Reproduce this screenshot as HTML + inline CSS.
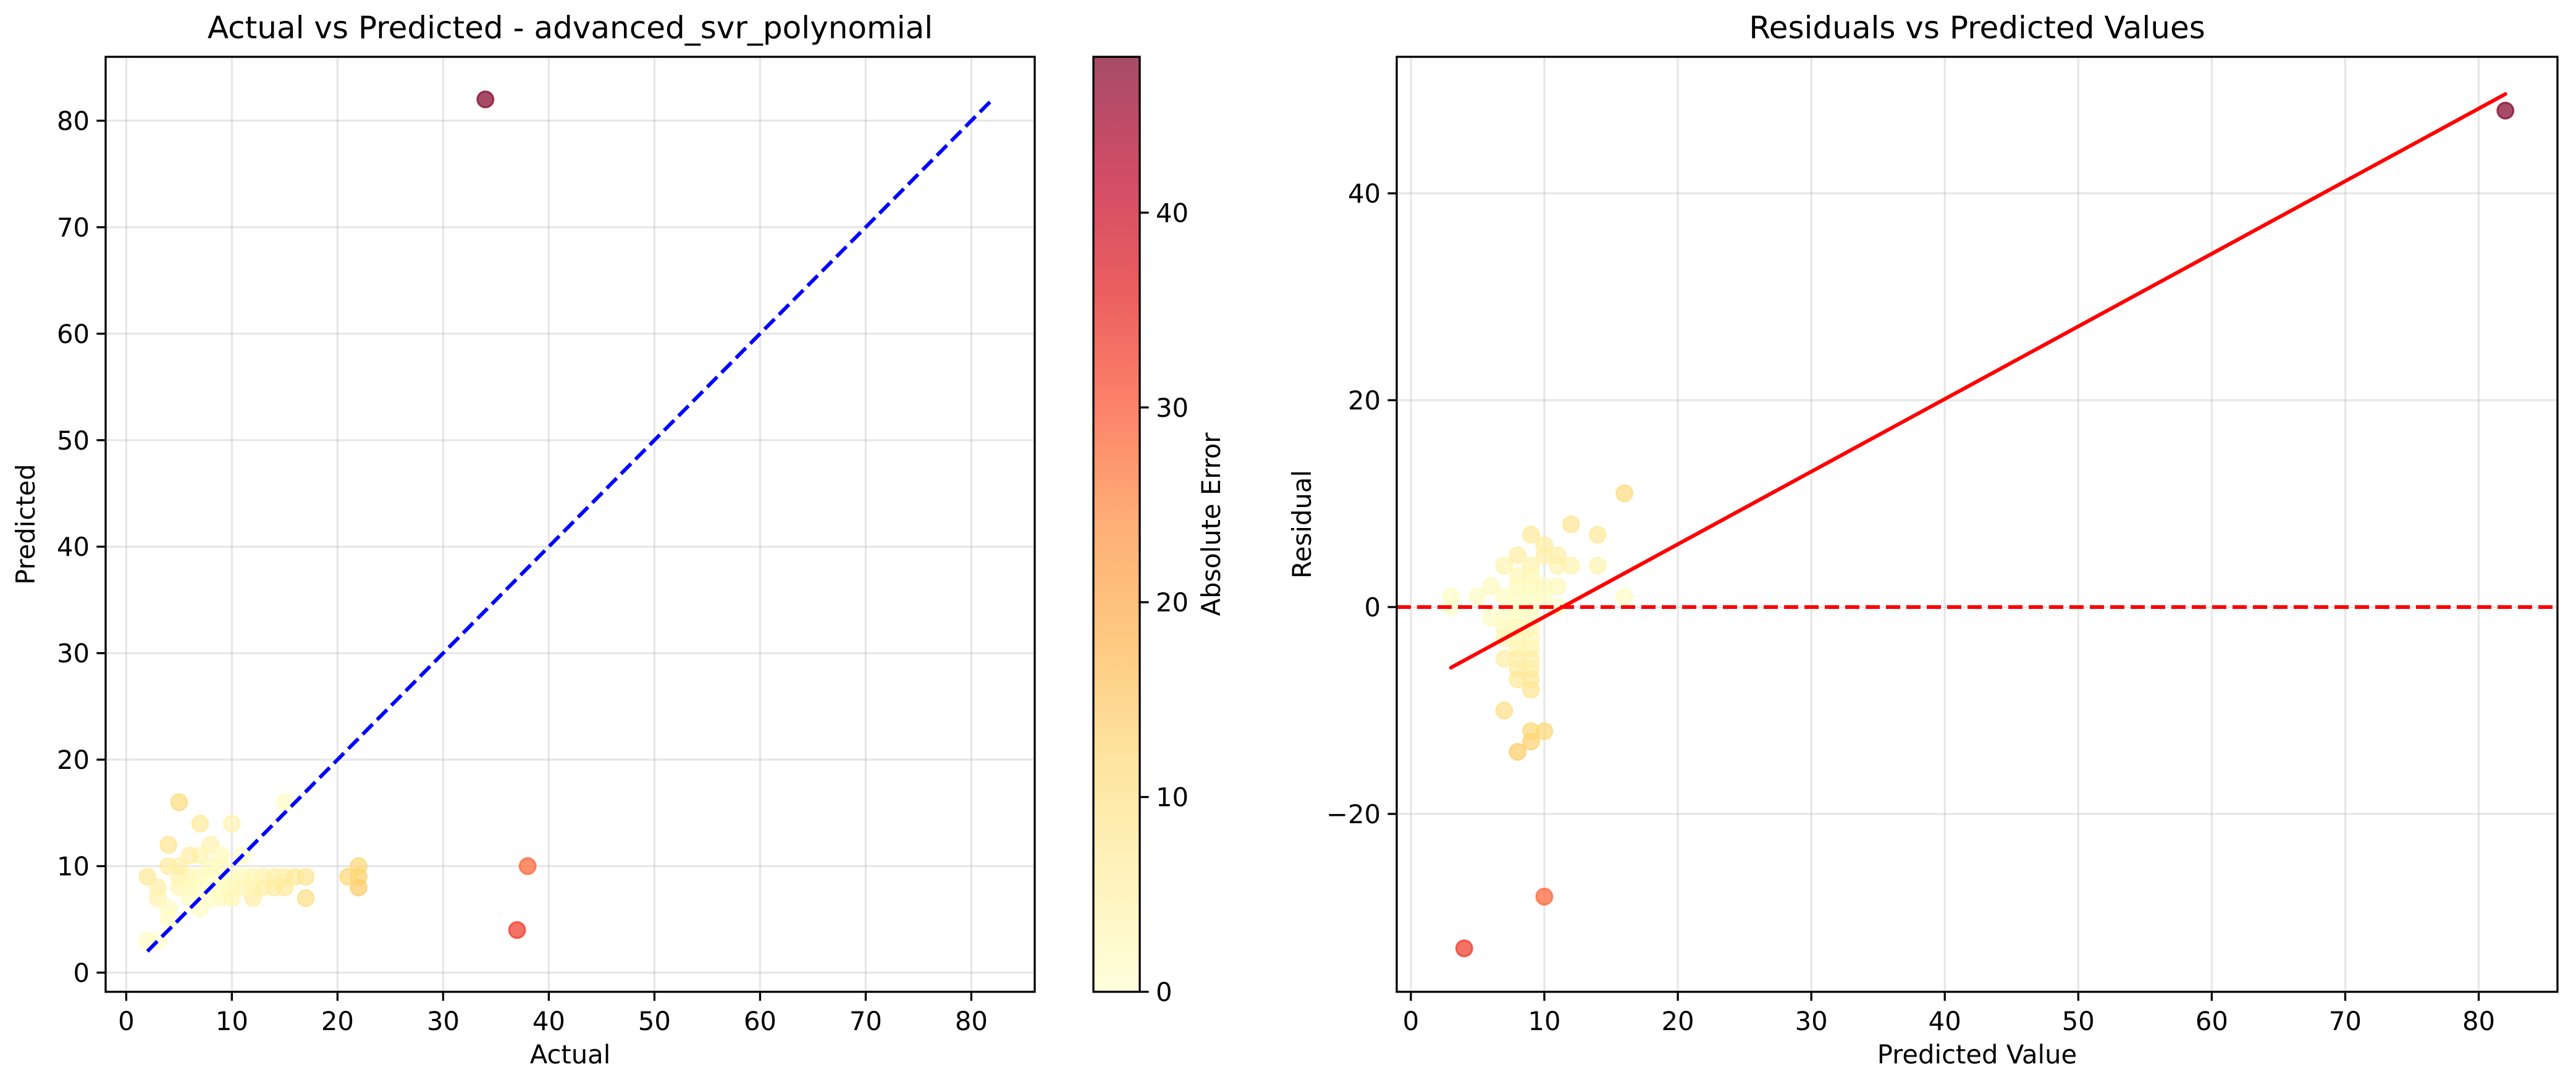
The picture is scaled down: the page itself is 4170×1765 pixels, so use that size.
<!DOCTYPE html>
<html><head><meta charset="utf-8"><style>
html,body{margin:0;padding:0;background:#fff;}
svg{display:block;font-family:"DejaVu Sans","Liberation Sans",sans-serif;}
</style></head><body>
<svg id="fig" width="4170" height="1765" viewBox="0 0 4170 1765" xmlns="http://www.w3.org/2000/svg">
<defs>
<linearGradient id="cbgrad" x1="0" y1="1" x2="0" y2="0">
<stop offset="0" stop-color="#ffffcc"/><stop offset="0.125" stop-color="#ffeda0"/><stop offset="0.25" stop-color="#fed976"/><stop offset="0.375" stop-color="#feb24c"/><stop offset="0.5" stop-color="#fd8d3c"/><stop offset="0.625" stop-color="#fc4e2a"/><stop offset="0.75" stop-color="#e31a1c"/><stop offset="0.875" stop-color="#bd0026"/><stop offset="1" stop-color="#800026"/>
</linearGradient>
</defs>
<g id="left"></g>
<g id="cbar"></g>
<g id="right"></g>
</svg>
<script>
const actualValues = [34,37,38,2,2,3,3,3,4,4,4,4,5,7,10,8,7,11,7,9,12,17,22,22,22,21,13,15,16,17,14,15,15,5,6,7,8,9,10,11,12,5,6,7,8,9,10,11,13,6,8,9,5,6,9,8,10,14,12];
const predictedValues = [82,4,10,9,3,3,8,7,12,10,6,5,16,14,14,12,11,11,6,7,7,7,10,9,8,9,9,9,9,9,8,8,16,9,9,9,9,9,9,9,8,8,8,8,8,8,8,8,8,7,10,10,10,11,11,7,7,9,9];
const leftXTicks = [0,10,20,30,40,50,60,70,80];
const leftYTicks = [0,10,20,30,40,50,60,70,80];
const cbarTicks = [0,10,20,30,40];
const rightXTicks = [0,10,20,30,40,50,60,70,80];
const rightYTicks = [-20,0,20,40];

const NS = "http://www.w3.org/2000/svg";
function mk(parent, tag, attrs, text){
  const e = document.createElementNS(NS, tag);
  for (const k in attrs) e.setAttribute(k, attrs[k]);
  if (text !== undefined) e.textContent = text;
  parent.appendChild(e);
  return e;
}
const stops = ["#ffffcc","#ffeda0","#fed976","#feb24c","#fd8d3c","#fc4e2a","#e31a1c","#bd0026","#800026"];
function hex(c){return [parseInt(c.substr(1,2),16),parseInt(c.substr(3,2),16),parseInt(c.substr(5,2),16)];}
function cmap(t){
  t=Math.max(0,Math.min(1,t)); const p=t*8; const i=Math.min(7,Math.floor(p)); const f=p-i;
  const a=hex(stops[i]), b=hex(stops[i+1]);
  return "rgb("+a.map((v,j)=>Math.round(v+(b[j]-v)*f)).join(",")+")";
}
const errors = actualValues.map((a,i)=>Math.abs(a-predictedValues[i]));
const vmax = Math.max(...errors);
const residuals = predictedValues.map((p,i)=>p-actualValues[i]);
const FS = 41.7;

// ---------- left panel ----------
const L = {x0:171, x1:1675, y0:92, y1:1606, xmin:-1.95, xmax:86.0, ymin:-1.8, ymax:86.0};
const lx = v => L.x0 + (v-L.xmin)/(L.xmax-L.xmin)*(L.x1-L.x0);
const ly = v => L.y1 - (v-L.ymin)/(L.ymax-L.ymin)*(L.y1-L.y0);
const left = document.getElementById("left");
leftXTicks.forEach(t=>{
  const g = mk(left,"line",{x1:lx(t),x2:lx(t),y1:L.y0,y2:L.y1,stroke:"#b0b0b0","stroke-opacity":0.3,"stroke-width":3.3});
  
  
  const tk = mk(left,"line",{x1:lx(t),x2:lx(t),y1:L.y1,y2:L.y1+14.6,stroke:"#000","stroke-width":3.3});
  
  
  const tl = mk(left,"text",{x:lx(t),y:L.y1+62,"font-size":FS,"text-anchor":"middle"},String(t));
  
  
});
leftYTicks.forEach(t=>{
  const g = mk(left,"line",{x1:L.x0,x2:L.x1,y1:ly(t),y2:ly(t),stroke:"#b0b0b0","stroke-opacity":0.3,"stroke-width":3.3});
  
  
  const tk = mk(left,"line",{x1:L.x0-14.6,x2:L.x0,y1:ly(t),y2:ly(t),stroke:"#000","stroke-width":3.3});
  
  
  const tl = mk(left,"text",{x:L.x0-26,y:ly(t)+15,"font-size":FS,"text-anchor":"end"},String(t));
  
  
});
actualValues.forEach((a,i)=>{
  const c = cmap(errors[i]/vmax);
  const p = mk(left,"circle",{cx:lx(a),cy:ly(predictedValues[i]),r:13,fill:c,stroke:c,"stroke-width":3,"fill-opacity":0.7,"stroke-opacity":0.7});
  
  
});
const lo = Math.min(Math.min(...actualValues),Math.min(...predictedValues));
const hi = Math.max(Math.max(...actualValues),Math.max(...predictedValues));
const diag = mk(left,"line",{x1:lx(lo),y1:ly(lo),x2:lx(hi),y2:ly(hi),stroke:"#0000ff","stroke-width":6,"stroke-dasharray":"23 10"});


const lframe = mk(left,"rect",{x:L.x0,y:L.y0,width:L.x1-L.x0,height:L.y1-L.y0,fill:"none",stroke:"#000","stroke-width":3.3});


const lt = mk(left,"text",{x:(L.x0+L.x1)/2,y:62,"font-size":50,"text-anchor":"middle"},"Actual vs Predicted - advanced_svr_polynomial");


const lxl = mk(left,"text",{x:(L.x0+L.x1)/2,y:1722,"font-size":FS,"text-anchor":"middle"},"Actual");


const lyl = mk(left,"text",{x:0,y:0,"font-size":FS,"text-anchor":"middle",transform:"translate(56,"+((L.y0+L.y1)/2)+") rotate(-90)"},"Predicted");



// ---------- colorbar ----------
const C = {x0:1770, x1:1845, y0:92, y1:1606};
const cb = document.getElementById("cbar");
const cby = v => C.y1 - v/vmax*(C.y1-C.y0);
const cr = mk(cb,"rect",{x:C.x0,y:C.y0,width:C.x1-C.x0,height:C.y1-C.y0,fill:"url(#cbgrad)","fill-opacity":0.7,stroke:"#000","stroke-width":3.3});


cbarTicks.forEach(t=>{
  const tk = mk(cb,"line",{x1:C.x1,x2:C.x1+14.6,y1:cby(t),y2:cby(t),stroke:"#000","stroke-width":3.3});
  
  
  const tl = mk(cb,"text",{x:C.x1+26,y:cby(t)+15,"font-size":FS},String(t));
  
  
});
const cbl = mk(cb,"text",{x:0,y:0,"font-size":FS,"text-anchor":"middle",transform:"translate(1975,"+((C.y0+C.y1)/2)+") rotate(-90)"},"Absolute Error");



// ---------- right panel ----------
const R = {x0:2261, x1:4140, y0:92, y1:1606, xmin:-1.06, xmax:85.9, ymin:-37.2, ymax:53.2};
const rx = v => R.x0 + (v-R.xmin)/(R.xmax-R.xmin)*(R.x1-R.x0);
const ry = v => R.y1 - (v-R.ymin)/(R.ymax-R.ymin)*(R.y1-R.y0);
const right = document.getElementById("right");
rightXTicks.forEach(t=>{
  const g = mk(right,"line",{x1:rx(t),x2:rx(t),y1:R.y0,y2:R.y1,stroke:"#b0b0b0","stroke-opacity":0.3,"stroke-width":3.3});
  
  
  const tk = mk(right,"line",{x1:rx(t),x2:rx(t),y1:R.y1,y2:R.y1+14.6,stroke:"#000","stroke-width":3.3});
  
  
  const tl = mk(right,"text",{x:rx(t),y:R.y1+62,"font-size":FS,"text-anchor":"middle"},String(t));
  
  
});
rightYTicks.forEach(t=>{
  const g = mk(right,"line",{x1:R.x0,x2:R.x1,y1:ry(t),y2:ry(t),stroke:"#b0b0b0","stroke-opacity":0.3,"stroke-width":3.3});
  
  
  const tk = mk(right,"line",{x1:R.x0-14.6,x2:R.x0,y1:ry(t),y2:ry(t),stroke:"#000","stroke-width":3.3});
  
  
  const tl = mk(right,"text",{x:R.x0-26,y:ry(t)+15,"font-size":FS,"text-anchor":"end"},(t<0?"\u2212"+(-t):String(t)));
  
  
});
predictedValues.forEach((p,i)=>{
  const c = cmap(errors[i]/vmax);
  const d = mk(right,"circle",{cx:rx(p),cy:ry(residuals[i]),r:13,fill:c,stroke:c,"stroke-width":3,"fill-opacity":0.7,"stroke-opacity":0.7});
  
  
});
const zl = mk(right,"line",{x1:R.x0,x2:R.x1,y1:ry(0),y2:ry(0),stroke:"#ff0000","stroke-width":6,"stroke-dasharray":"23 10"});


// least squares trend
const n = predictedValues.length;
const mx = predictedValues.reduce((s,v)=>s+v,0)/n, my = residuals.reduce((s,v)=>s+v,0)/n;
let sxy=0,sxx=0; predictedValues.forEach((p,i)=>{sxy+=(p-mx)*(residuals[i]-my);sxx+=(p-mx)*(p-mx);});
const slope = sxy/sxx, icpt = my-slope*mx;
const pmin = Math.min(...predictedValues), pmax = Math.max(...predictedValues);
const tr = mk(right,"line",{x1:rx(pmin),y1:ry(icpt+slope*pmin),x2:rx(pmax),y2:ry(icpt+slope*pmax),stroke:"#ff0000","stroke-width":6,"stroke-linecap":"round"});


const rframe = mk(right,"rect",{x:R.x0,y:R.y0,width:R.x1-R.x0,height:R.y1-R.y0,fill:"none",stroke:"#000","stroke-width":3.3});


const rt = mk(right,"text",{x:(R.x0+R.x1)/2,y:62,"font-size":50,"text-anchor":"middle"},"Residuals vs Predicted Values");


const rxl = mk(right,"text",{x:(R.x0+R.x1)/2,y:1722,"font-size":FS,"text-anchor":"middle"},"Predicted Value");


const ryl = mk(right,"text",{x:0,y:0,"font-size":FS,"text-anchor":"middle",transform:"translate(2122,"+((R.y0+R.y1)/2)+") rotate(-90)"},"Residual");


</script>
</body></html>
